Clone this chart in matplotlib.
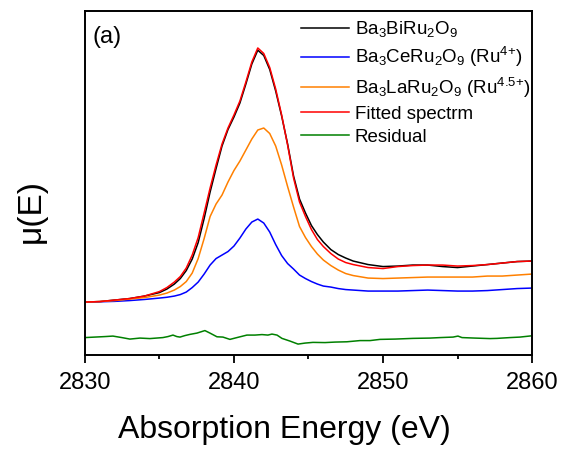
import matplotlib
matplotlib.use('Agg')
import matplotlib.pyplot as plt
from matplotlib.ticker import MultipleLocator

plt.rcParams['font.family'] = ['Liberation Sans', 'DejaVu Sans']
plt.rcParams['mathtext.fontset'] = 'custom'
plt.rcParams['mathtext.rm'] = 'Liberation Sans'
plt.rcParams['mathtext.it'] = 'Liberation Sans:italic'
plt.rcParams['mathtext.bf'] = 'Liberation Sans:bold'

# shared energy grid (eV), mu(E) in arbitrary units
energy = [2830.0, 2831.0, 2832.0, 2833.0, 2834.0, 2835.0, 2835.5, 2836.0, 2836.4, 2836.8,
          2837.2, 2837.6, 2838.0, 2838.4, 2838.8, 2839.2, 2839.6, 2840.0, 2840.4, 2840.8,
          2841.2, 2841.6, 2842.0, 2842.4, 2842.8, 2843.2, 2843.6, 2844.0, 2844.4, 2844.8,
          2845.2, 2845.6, 2846.0, 2846.5, 2847.0, 2847.5, 2848.0, 2849.0, 2850.0, 2851.0,
          2852.0, 2853.0, 2854.0, 2855.0, 2856.0, 2857.0, 2858.0, 2859.0, 2860.0]

mu_bi = [0.00, 0.005, 0.02, 0.035, 0.06, 0.095, 0.13, 0.18, 0.235, 0.315,
         0.43, 0.595, 0.835, 1.10, 1.335, 1.56, 1.725, 1.85, 1.99, 2.18,
         2.38, 2.518, 2.465, 2.325, 2.11, 1.86, 1.58, 1.26, 1.03, 0.89,
         0.765, 0.675, 0.60, 0.525, 0.475, 0.44, 0.41, 0.375, 0.355, 0.36,
         0.37, 0.37, 0.355, 0.345, 0.36, 0.375, 0.39, 0.405, 0.41]

mu_ce = [0.00, 0.003, 0.007, 0.015, 0.026, 0.04, 0.048, 0.06, 0.075, 0.10,
         0.145, 0.20, 0.28, 0.37, 0.435, 0.47, 0.505, 0.56, 0.64, 0.73,
         0.80, 0.83, 0.79, 0.70, 0.575, 0.465, 0.385, 0.33, 0.27, 0.235,
         0.205, 0.18, 0.16, 0.15, 0.135, 0.125, 0.12, 0.11, 0.11, 0.11,
         0.115, 0.12, 0.115, 0.11, 0.11, 0.115, 0.125, 0.135, 0.14]

mu_la = [0.00, 0.005, 0.015, 0.03, 0.045, 0.07, 0.09, 0.12, 0.155, 0.205,
         0.29, 0.435, 0.635, 0.855, 0.98, 1.07, 1.20, 1.315, 1.41, 1.52,
         1.63, 1.72, 1.74, 1.685, 1.56, 1.37, 1.155, 0.95, 0.755, 0.645,
         0.555, 0.48, 0.42, 0.365, 0.32, 0.285, 0.265, 0.24, 0.235, 0.24,
         0.245, 0.25, 0.25, 0.25, 0.25, 0.26, 0.26, 0.27, 0.28]

mu_fit = [0.00, 0.005, 0.02, 0.035, 0.06, 0.105, 0.145, 0.20, 0.255, 0.34,
          0.47, 0.645, 0.89, 1.14, 1.37, 1.58, 1.74, 1.87, 2.01, 2.20,
          2.40, 2.54, 2.485, 2.345, 2.13, 1.87, 1.57, 1.24, 1.00, 0.855,
          0.725, 0.625, 0.555, 0.485, 0.43, 0.395, 0.375, 0.345, 0.335, 0.355,
          0.365, 0.37, 0.37, 0.36, 0.365, 0.375, 0.39, 0.405, 0.41]

e_res = [2830.00, 2830.67, 2831.34, 2831.88, 2832.48, 2833.02, 2833.69, 2834.36, 2835.23, 2835.57,
         2835.91, 2836.17, 2836.38, 2836.71, 2837.05, 2837.52, 2838.05, 2838.39, 2838.86, 2839.26,
         2839.73, 2840.20, 2840.87, 2841.41, 2841.88, 2842.28, 2842.55, 2842.89, 2843.22, 2843.76,
         2844.30, 2844.77, 2845.30, 2846.11, 2846.78, 2847.58, 2848.46, 2849.13, 2849.80, 2850.81,
         2852.01, 2853.15, 2853.83, 2854.70, 2855.03, 2855.30, 2856.17, 2857.18, 2857.65, 2858.52,
         2859.19, 2860.00]
mu_res = [-0.355, -0.35, -0.345, -0.34, -0.355, -0.37, -0.36, -0.365, -0.355, -0.345,
          -0.33, -0.345, -0.35, -0.335, -0.323, -0.31, -0.285, -0.31, -0.347, -0.35,
          -0.373, -0.355, -0.33, -0.33, -0.325, -0.33, -0.32, -0.33, -0.363, -0.39,
          -0.42, -0.41, -0.403, -0.405, -0.40, -0.397, -0.385, -0.385, -0.373, -0.37,
          -0.363, -0.36, -0.355, -0.35, -0.34, -0.355, -0.36, -0.365, -0.363, -0.355,
          -0.35, -0.337]

labels = [r'Ba$_3$BiRu$_2$O$_9$',
          r'Ba$_3$CeRu$_2$O$_9$ (Ru$^{4{+}}$)',
          r'Ba$_3$LaRu$_2$O$_9$ (Ru$^{4.5{+}}$)',
          'Fitted spectrm',
          'Residual']

fig = plt.figure(figsize=(5.66, 4.57), dpi=100)
ax = fig.add_axes([0.150, 0.223, 0.790, 0.753])

ax.plot(energy, mu_bi, color='black', lw=1.1, label=labels[0])
ax.plot(energy, mu_ce, color='#0000ff', lw=1.1, label=labels[1])
ax.plot(energy, mu_la, color='#ff8000', lw=1.1, label=labels[2])
ax.plot(energy, mu_fit, color='#ff0000', lw=1.1, label=labels[3])
ax.plot(e_res, mu_res, color='#008000', lw=1.1, label=labels[4])

ax.set_xlim(2830, 2860)
ax.set_ylim(-0.53, 2.91)
ax.set_yticks([])
ax.xaxis.set_major_locator(MultipleLocator(10))
ax.xaxis.set_minor_locator(MultipleLocator(5))
ax.tick_params(axis='x', which='major', direction='out', length=6, width=1.3, pad=6.5, labelsize=17)
ax.tick_params(axis='x', which='minor', direction='out', length=3, width=1.3)
for s in ax.spines.values():
    s.set_linewidth(1.4)

ax.set_xlabel('Absorption Energy (eV)', fontsize=23)
ax.set_ylabel('\u03bc(E)', fontsize=24)
ax.xaxis.set_label_coords(0.447, -0.175)
ax.yaxis.set_label_coords(-0.085, 0.42)

ax.text(0.016, 0.924, '(a)', transform=ax.transAxes, fontsize=17, ha='left', va='center')

ax.legend(loc='upper left', bbox_to_anchor=(0.478, 0.981), frameon=False, fontsize=13.5,
          handlelength=2.6, handletextpad=0.3, labelspacing=0.32, borderpad=0.1, borderaxespad=0)

plt.savefig('out.png', dpi=100)
